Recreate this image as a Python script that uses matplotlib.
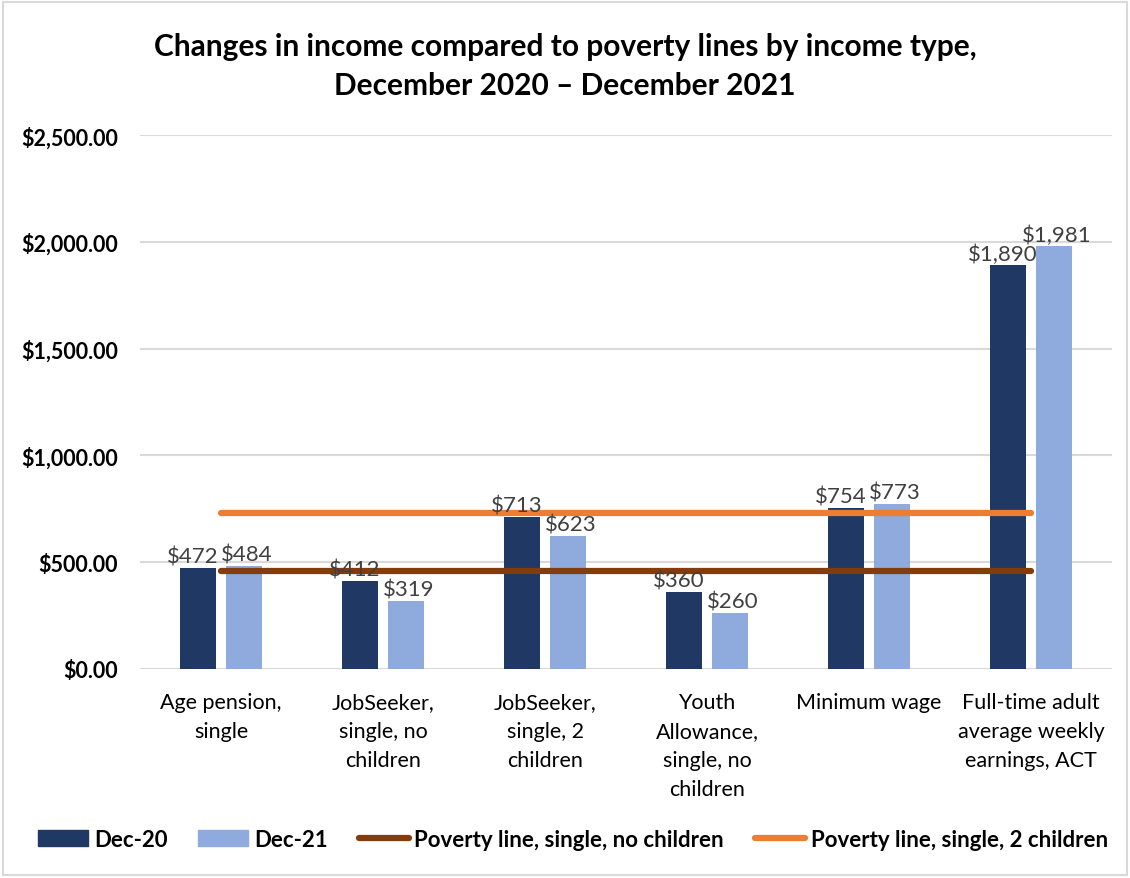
import matplotlib.pyplot as plt
import numpy as np
from matplotlib.patches import Patch, Rectangle
from matplotlib.lines import Line2D

plt.rcParams['font.family'] = ['Lato', 'DejaVu Sans']

categories = ["Age pension,\nsingle", "JobSeeker,\nsingle, no\nchildren", "JobSeeker,\nsingle, 2\nchildren",
              "Youth\nAllowance,\nsingle, no\nchildren", "Minimum wage", "Full-time adult\naverage weekly\nearnings, ACT"]
dec20 = [472, 412, 713, 360, 754, 1890]
dec21 = [484, 319, 623, 260, 773, 1981]
poverty_single = 456
poverty_2kids = 730
y_ticks = [0, 500, 1000, 1500, 2000, 2500]

navy = "#203864"
light = "#8FAADC"
brown = "#843C0C"
orange = "#ED7D31"
label_col = "#404040"

fig = plt.figure(figsize=(11.3, 8.79), dpi=100)
ax = fig.add_axes([0.124, 0.238, 0.86, 0.607])

x = np.arange(len(categories))
w = 0.222
off = 0.142
b1 = ax.bar(x - off, dec20, w, color=navy, zorder=3)
b2 = ax.bar(x + off, dec21, w, color=light, zorder=3)

# Excel nudges the labels apart a little so they don't collide
for rects, vals, dx in ((b1, dec20, -4), (b2, dec21, 2)):
    for r, v in zip(rects, vals):
        ax.annotate("${:,}".format(v), (r.get_x() + r.get_width() / 2, v), xytext=(dx, 1),
                    textcoords='offset points', ha='center', va='bottom',
                    fontsize=16, color=label_col, zorder=5)

ax.plot([x[0], x[-1]], [poverty_single] * 2, color=brown, lw=4.5, solid_capstyle='round', zorder=4)
ax.plot([x[0], x[-1]], [poverty_2kids] * 2, color=orange, lw=4.5, solid_capstyle='round', zorder=4)

ax.set_xlim(-0.5, len(categories) - 0.5)
ax.set_ylim(0, 2500)
ax.set_yticks(y_ticks)
ax.set_yticklabels(["${:,.2f}".format(v) for v in y_ticks], fontsize=15.5, fontweight='bold', color='black')
ax.set_xticks(x)
ax.set_xticklabels(categories, fontsize=15.5, color='black', linespacing=1.55)
ax.tick_params(axis='both', length=0)
ax.tick_params(axis='y', pad=16)
ax.tick_params(axis='x', pad=17)
ax.yaxis.grid(True, color='#d9d9d9', lw=1.5, zorder=0)
for s in ax.spines.values():
    s.set_visible(False)

fig.text(0.5, 0.962, "Changes in income compared to poverty lines by income type,\nDecember 2020 \u2013 December 2021",
         ha='center', va='top', fontsize=21.5, fontweight='bold', linespacing=1.45)

handles = [Patch(color=navy), Patch(color=light),
           Line2D([], [], color=brown, lw=4.5, solid_capstyle='round'),
           Line2D([], [], color=orange, lw=4.5, solid_capstyle='round')]
labels = ["Dec-20", "Dec-21", "Poverty line, single, no children", "Poverty line, single, 2 children"]
leg = fig.legend(handles, labels, loc='center', bbox_to_anchor=(0.507, 0.044), ncol=4, frameon=False,
                 prop={'size': 16, 'weight': 'bold'}, handlelength=2.25, columnspacing=1.4, handletextpad=0.25)

fig.patches.append(Rectangle((0.003, 0.003), 0.994, 0.994, transform=fig.transFigure, fill=False,
                             edgecolor='#d9d9d9', lw=1.5))

fig.savefig("out.png", dpi=100)
